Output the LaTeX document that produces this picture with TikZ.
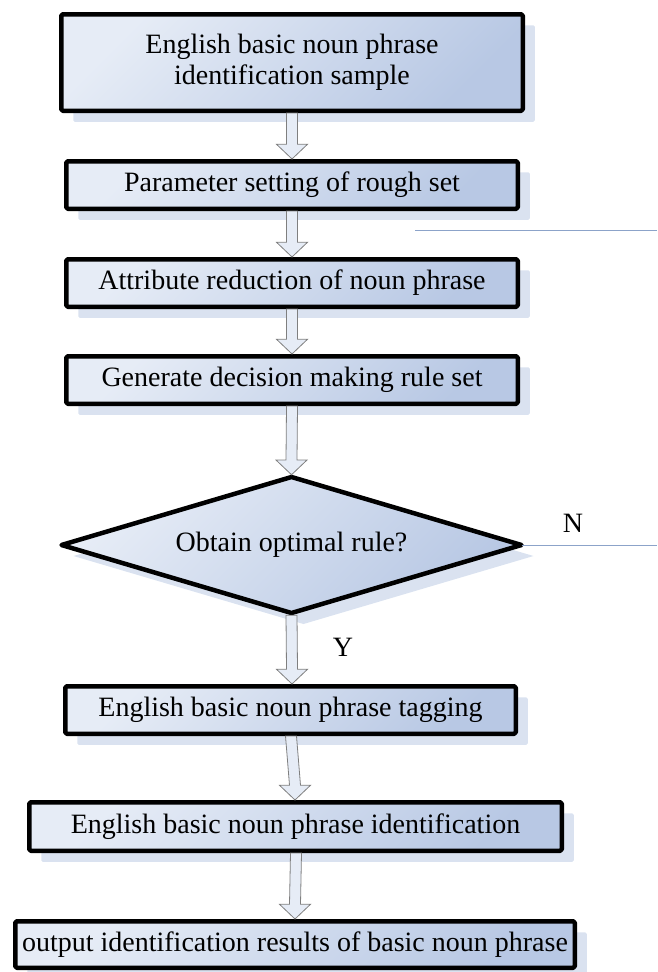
\documentclass[tikz,border=0pt]{standalone}
\usepackage{fontspec}
\setmainfont{Liberation Serif}
\usetikzlibrary{shapes.geometric,shadows,calc}
\definecolor{boxlight}{HTML}{E6ECF6}
\definecolor{boxdark}{HTML}{B8C8E4}
\definecolor{shadowc}{HTML}{DAE2F0}
\definecolor{arrowfill}{HTML}{E6ECF6}
\definecolor{arrowline}{HTML}{7F7F7F}
\definecolor{thinline}{HTML}{8CA3C9}
\tikzset{
  boxfont/.style={font=\fontsize{28}{31}\selectfont},
  flowbox/.style={draw=black, line width=4.5pt, rounded corners=1.5pt, line join=round,
    top color=boxlight, bottom color=boxdark, shading angle=45,
    drop shadow={shadow xshift=12pt, shadow yshift=-11pt, fill=shadowc, opacity=1},
    boxfont, align=center, inner sep=0pt, outer sep=0pt},
  decision/.style={flowbox, diamond, rounded corners=0pt, aspect=3.4},
  harrow/.style={fill=arrowfill, draw=arrowline, line width=0.8pt, line join=miter},
  thin connector/.style={draw=thinline, line width=1pt},
  letter/.style={boxfont, inner sep=0pt}
}
\newcommand{\hollowarrow}[2]{%
  \path[harrow] let \p1=(#1), \p2=(#2) in
    (\x1-5.5pt,\y1-2.25pt) -- (\x2-5.5pt,\y2+17pt) -- (\x2-15.5pt,\y2+17pt) --
    (\x2,\y2+2.25pt) -- (\x2+15.5pt,\y2+17pt) -- (\x2+5.5pt,\y2+17pt) --
    (\x1+5.5pt,\y1-2.25pt) -- cycle;}
\begin{document}
\begin{tikzpicture}[x=1pt,y=-1pt]
\useasboundingbox (0,0) rectangle (657,972);
\node[flowbox, minimum width=461.5pt, minimum height=96.5pt] (b1) at (292,62.5)
  {English basic noun phrase\\identification sample};
\node[flowbox, minimum width=451.5pt, minimum height=47.5pt] (b2) at (292,185)
  {Parameter setting of rough set};
\node[flowbox, minimum width=451.5pt, minimum height=47.5pt] (b3) at (292,283)
  {Attribute reduction of noun phrase};
\node[flowbox, minimum width=451.5pt, minimum height=47.5pt] (b4) at (292,380)
  {Generate decision making rule set};
\node[decision, minimum width=460pt, minimum height=136pt] (d) at (291.5,545)
  {Obtain optimal rule?};
\node[flowbox, minimum width=450.5pt, minimum height=47.5pt] (b5) at (290.5,710)
  {English basic noun phrase tagging};
\node[flowbox, minimum width=532.5pt, minimum height=48.5pt] (b6) at (295.5,826.5)
  {English basic noun phrase identification};
\node[flowbox, minimum width=559.5pt, minimum height=46.5pt] (b7) at (295,944.5)
  {output identification results of basic noun phrase};
% block arrows
\hollowarrow{b1.south}{b2.north}
\hollowarrow{b2.south}{b3.north}
\hollowarrow{b3.south}{b4.north}
\hollowarrow{b4.south}{d.north}
\hollowarrow{d.south}{$(b5.north)+(1.5,0)$}
\hollowarrow{$(b5.south)+(0.5,0)$}{$(b6.north)+(-0.5,0)$}
\hollowarrow{$(b6.south)+(0.5,0)$}{b7.north}
% thin lines
\coordinate (l1s) at (415,230);
\coordinate (l1e) at (657,230);
\coordinate (l2e) at (657,545);
\draw[thin connector] (l1s) -- (l1e);
\draw[thin connector] (d.east) -- (l2e);
% labels
\node[letter] (N) at (573,523) {N};
\node[letter] (Y) at (343,647) {Y};
\end{tikzpicture}
\end{document}
